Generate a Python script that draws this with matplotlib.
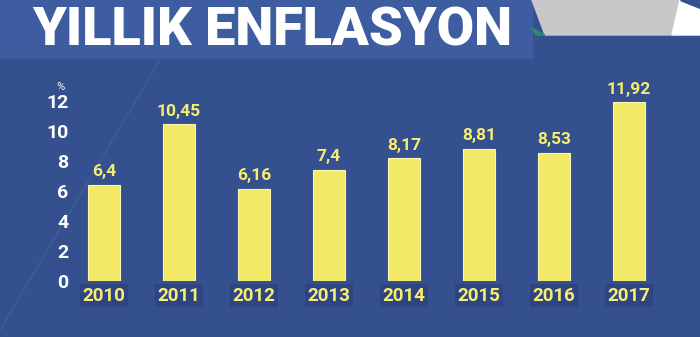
import matplotlib.pyplot as plt
import numpy as np
from matplotlib.patches import Rectangle, Polygon

# Yıllık enflasyon (%)
yillar = ['2010', '2011', '2012', '2013', '2014', '2015', '2016', '2017']
enflasyon = [6.4, 10.45, 6.16, 7.4, 8.17, 8.81, 8.53, 11.92]
etiketler = ['6,4', '10,45', '6,16', '7,4', '8,17', '8,81', '8,53', '11,92']
y_ticks = [0, 2, 4, 6, 8, 10, 12]

fundo = '#34508f'
faixa = '#3e5da0'
amarelo = '#f2e966'
amarelo_txt = '#f6ee72'

W, H = 700, 337
fig = plt.figure(figsize=(W / 100, H / 100), dpi=100)
fig.patch.set_facecolor(fundo)

# fundo decorativo (coordenadas em pixels da figura)
bg = fig.add_axes([0, 0, 1, 1])
bg.set_xlim(0, W)
bg.set_ylim(H, 0)
bg.axis('off')
bg.add_patch(Rectangle((0, 0), 532, 58, color=faixa, zorder=1))
bg.add_patch(Polygon([(532, 0), (680, 0), (672, 35), (545, 35)], color='#c9c7c9', zorder=1))
bg.add_patch(Polygon([(532, 28), (545, 35), (536, 35)], color='#2f8a6a', zorder=1))
bg.add_patch(Polygon([(672, 35), (700, 35), (700, 8), (680, 0)], color='white', zorder=1))
bg.add_patch(Polygon([(680, 0), (700, 0), (700, 8)], color=fundo, zorder=2))
bg.plot([0, 160], [330, 60], color='#4a68a8', lw=1, alpha=0.5, zorder=0)
bg.text(272, 31, 'YILLIK ENFLASYON', color='white', fontsize=39, fontweight='heavy',
        family='Roboto', ha='center', va='center', zorder=3)

# grafico
ax = fig.add_axes([85 / W, (H - 281) / H, (690 - 85) / W, 180 / H])
ax.set_facecolor('none')
x = np.arange(len(yillar))
barras = ax.bar(x, enflasyon, width=0.43, color=amarelo, edgecolor='#fbf7b0', linewidth=0.8)

for barra, txt in zip(barras, etiketler):
    ax.annotate(txt, xy=(barra.get_x() + barra.get_width() / 2, barra.get_height()),
                xytext=(0, 4), textcoords='offset points', ha='center', va='bottom',
                color=amarelo_txt, fontsize=12.5, fontweight='bold', family='Roboto',
                annotation_clip=False)

ax.set_xlim(-0.2533, 7.813)
ax.set_ylim(0, 12)
ax.set_yticks(y_ticks)
ax.set_yticklabels([str(v) for v in y_ticks], color='white', fontsize=14,
                   fontweight='bold', family='Roboto')
ax.set_xticks(x)
ax.set_xticklabels(yillar, color=amarelo_txt, fontsize=13.5, fontweight='bold', family='Roboto')
for lbl in ax.get_xticklabels():
    lbl.set_bbox(dict(facecolor='#2a3f78', edgecolor='none', pad=2, alpha=0.6))
ax.tick_params(axis='y', length=0, pad=12)
ax.tick_params(axis='x', length=0, pad=4)
for s in ax.spines.values():
    s.set_visible(False)

ax.text(-0.58, 12.9, '%', color='white', fontsize=8, family='Roboto',
        ha='center', va='center', transform=ax.transData, clip_on=False)

plt.savefig('out.png', dpi=100, facecolor=fig.get_facecolor())
